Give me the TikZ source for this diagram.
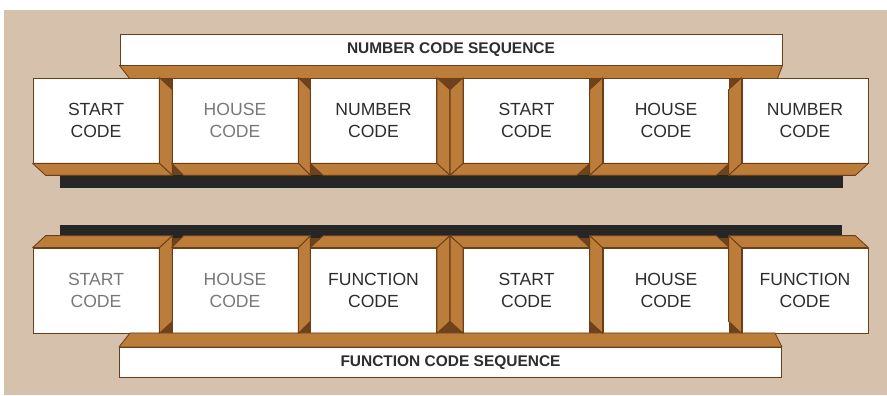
\documentclass[tikz,border=0pt]{standalone}
\usepackage{fontspec}
\setmainfont{Liberation Sans}
\definecolor{paper}{RGB}{214,193,172}
\definecolor{wood}{RGB}{188,124,58}
\definecolor{woodedge}{RGB}{105,62,25}
\definecolor{woodshade}{RGB}{110,66,28}
\definecolor{ink}{RGB}{45,45,45}
\definecolor{faded}{RGB}{120,120,120}
\begin{document}
\begin{tikzpicture}[x=0.025cm,y=-0.025cm,
	codebox/.style={ rectangle, draw=woodedge, line width=0.5pt, fill=white, inner sep=0pt, minimum width=3.15cm, minimum height=2.125cm, align=center, text=ink, font=\fontsize{12.5}{15.5}\selectfont },
	fadedbox/.style={ codebox, text=faded },
	seqbar/.style={ rectangle, draw=woodedge, line width=0.5pt, fill=white, inner sep=0pt, minimum width=16.55cm, minimum height=0.76cm, text=ink, font=\fontsize{11}{13}\selectfont\bfseries },
	face/.style={ fill=wood, draw=woodedge, line width=0.6pt, line join=round }
]

\useasboundingbox (0,0) rectangle (887,395);
\fill[paper] (4,10) rectangle (887,395);
\fill[black!85] (60,175) rectangle (843,188);
\fill[black!85] (60,225) rectangle (842,238);
\fill[woodshade] (45,78) rectangle (855,175);
\fill[woodshade] (45,238) rectangle (855,333);

\node at (451,50) (ns) [seqbar] {NUMBER CODE SEQUENCE};
\node at (96,120.5) (n1) [codebox] {START\\CODE};
\node at (235,120.5) (n2) [fadedbox] {HOUSE\\CODE};
\node at (373.5,120.5) (n3) [codebox] {NUMBER\\CODE};
\node at (526.5,120.5) (n4) [codebox] {START\\CODE};
\node at (666,120.5) (n5) [codebox] {HOUSE\\CODE};
\node at (805,120.5) (n6) [codebox] {NUMBER\\CODE};

\node at (96,290.5) (f1) [fadedbox] {START\\CODE};
\node at (235,290.5) (f2) [fadedbox] {HOUSE\\CODE};
\node at (373.5,290.5) (f3) [codebox] {FUNCTION\\CODE};
\node at (526.5,290.5) (f4) [codebox] {START\\CODE};
\node at (666,290.5) (f5) [codebox] {HOUSE\\CODE};
\node at (805,290.5) (f6) [codebox] {FUNCTION\\CODE};
\node at (450.5,362.5) (fs) [seqbar] {FUNCTION CODE SEQUENCE};

% depth of the shelves
\draw[face] (ns.south west) -- (ns.south east) -- ([shift={(-5,13)}]ns.south east) -- ([shift={(10,13)}]ns.south west) -- cycle;
\draw[face] (fs.north west) -- (fs.north east) -- ([shift={(-7,-14)}]fs.north east) -- ([shift={(11,-14)}]fs.north west) -- cycle;
\foreach \b/\ca/\cb/\cc/\dx/\dy in {
  n1/north east/south east/south west/13/12, n2/north east/south east/south west/12/12,
  n3/north east/south east/south west/13/12, n4/north west/south west/south east/-13/12,
  n5/north west/south west/south east/-13/12, n6/north west/south west/south east/-13/12,
  f1/south east/north east/north west/13/-12, f2/south east/north east/north west/12/-12,
  f3/south east/north east/north west/13/-12, f4/south west/north west/north east/-13/-12,
  f5/south west/north west/north east/-13/-12, f6/south west/north west/north east/-13/-12}
{
  \draw[face] (\b.\ca) -- ([shift={(\dx,\dy)}]\b.\ca) -- ([shift={(\dx,\dy)}]\b.\cb) -- (\b.\cb) -- cycle;
  \draw[face] (\b.\cb) -- ([shift={(\dx,\dy)}]\b.\cb) -- ([shift={(\dx,\dy)}]\b.\cc) -- (\b.\cc) -- cycle;
}

\end{tikzpicture}
\end{document}
